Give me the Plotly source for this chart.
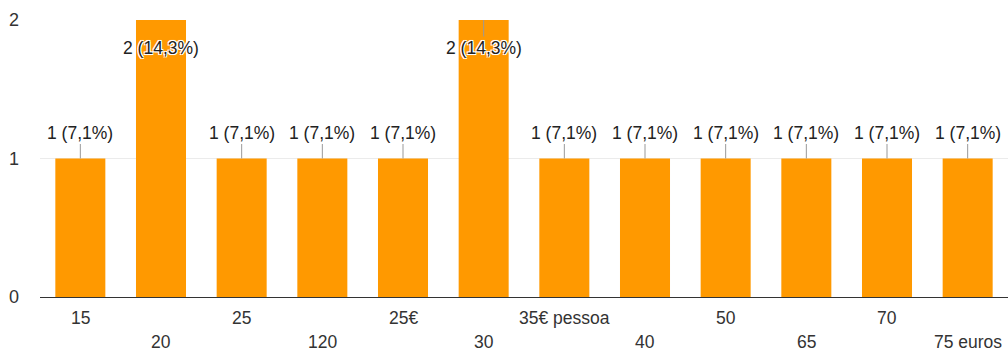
import plotly.graph_objects as go

categories = ["15", "20", "25", "120", "25€", "30", "35€ pessoa", "40", "50", "65", "70", "75 euros"]
counts = [1, 2, 1, 1, 1, 2, 1, 1, 1, 1, 1, 1]
percent_labels = ["7,1%", "14,3%", "7,1%", "7,1%", "7,1%", "14,3%", "7,1%", "7,1%", "7,1%", "7,1%", "7,1%", "7,1%"]
y_ticks = [0, 1, 2]

BAR_COLOR = "#ff9900"
FONT = "Liberation Sans, Arial, sans-serif"
halo = "-1px -1px 0 #fff, 1px -1px 0 #fff, -1px 1px 0 #fff, 1px 1px 0 #fff, 0 0 2px #fff"

fig = go.Figure(
    go.Bar(x=categories, y=counts, marker=dict(color=BAR_COLOR, line=dict(width=0)), hoverinfo="skip")
)

ymax = max(counts)
annotations = []
for i, (cat, val, pct) in enumerate(zip(categories, counts, percent_labels)):
    # numeric-looking category names are positioned by their index on the category axis
    top = val >= ymax
    annotations.append(dict(
        x=i, y=val, xref="x", yref="y",
        text=f"{val} ({pct})",
        showarrow=True, arrowhead=0, arrowwidth=1, arrowcolor="#999999",
        ax=0, ay=28 if top else -26,
        font=dict(family=FONT, size=17.5, color="#222222", shadow=halo if top else "none"),
    ))
    # staggered category labels under the axis
    annotations.append(dict(
        x=i, y=0, xref="x", yref="paper",
        text=cat, showarrow=False, yanchor="middle",
        yshift=-21 if i % 2 == 0 else -45,
        font=dict(family=FONT, size=17.5, color="#333333"),
    ))

fig.update_layout(
    width=1008, height=352,
    margin=dict(l=40, r=0, t=20, b=55),
    paper_bgcolor="white", plot_bgcolor="white",
    bargap=0.38,
    showlegend=False,
    annotations=annotations,
    font=dict(family=FONT, size=17.5, color="#333333"),
)
fig.update_xaxes(type="category", categoryorder="array", categoryarray=categories,
                 range=[-0.5, len(categories) - 0.5], autorange=False,
                 showticklabels=False, showgrid=False, showline=True, linecolor="#333333", linewidth=1)
fig.update_yaxes(
    range=[0, ymax], autorange=False, tickvals=y_ticks, ticktext=[str(v) for v in y_ticks],
    showgrid=True, gridcolor="#ebebeb", gridwidth=1,
    zeroline=False, showline=False, ticks="",
    tickfont=dict(family=FONT, size=18, color="#333333"),
    ticklabelstandoff=20,
)

fig.write_html("out.html")
